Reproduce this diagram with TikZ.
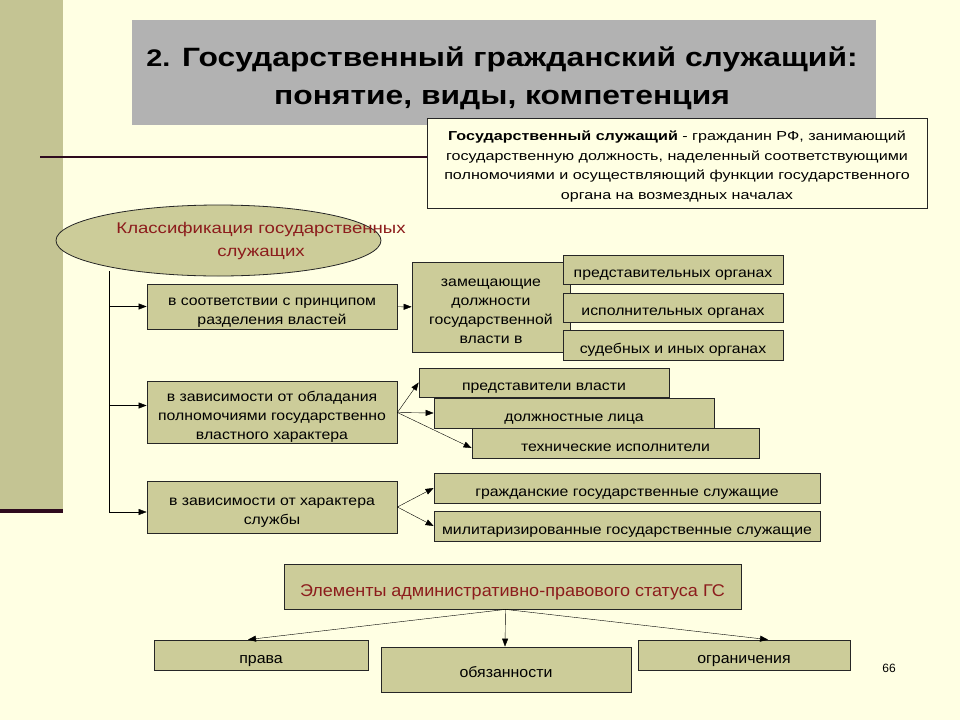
\documentclass[tikz,border=0pt]{standalone}
\usepackage{fontspec}
\setmainfont{Liberation Sans}
\newfontfamily\boxfont{Liberation Sans}[FakeStretch=1.13]
\newfontfamily\widefont{Liberation Sans}[FakeStretch=1.2]
\newfontfamily\deffont{Liberation Sans}[FakeStretch=1.24]
\newfontfamily\lowfont{Liberation Sans}[FakeStretch=1.06]
\usetikzlibrary{shapes.geometric,arrows.meta}
\definecolor{paper}{HTML}{FFFFE3}
\definecolor{olive}{HTML}{CCCC99}
\definecolor{slate}{HTML}{B2B2B2}
\definecolor{wine}{HTML}{8C1C1C}
\definecolor{plum}{HTML}{2E0A1E}

\begin{document}
\begin{tikzpicture}[x=1pt,y=-1pt,
    box/.style={draw=black!85,fill=olive,line width=0.8pt,inner sep=0pt,align=center,font=\boxfont\fontsize{14}{19}\selectfont},
    lines/.style={text height=#1,text depth=4pt},lines/.default=20.4pt,
    lowbox/.style={box,lines,font=\lowfont\fontsize{15}{19}\selectfont},
    >={Triangle[length=8pt,width=6pt]}]
		\fill[paper] (0,0) rectangle (960,720);
		\useasboundingbox (0,0) rectangle (960,720);
		\fill[olive!96!black] (0,0) rectangle (63,509);
		\fill[plum] (0,509) rectangle (63,513);
		\fill[slate] (132,20) rectangle (876,125);
		\node[font=\widefont\bfseries\fontsize{26.5}{38}\selectfont,align=center] (title) at (502,78) {{\fontsize{24}{38}\selectfont 2.} Государственный гражданский служащий:\\понятие, виды, компетенция};
		
		\node[box,fill=paper,lines=76.3pt,minimum width=500,minimum height=90,font=\deffont\fontsize{13}{19.5}\selectfont] (def) at (677,163) {\textbf{Государственный служащий} - гражданин РФ, занимающий\\государственную должность, наделенный соответствующими\\полномочиями и осуществляющий функции государственного\\органа на возмездных началах};
		\coordinate (rule) at (40,157);
		\draw[plum,line width=2pt] (rule) -- (rule -| def.west);
		
		\node[ellipse,draw=black!85,fill=olive,line width=0.8pt,minimum width=325,minimum height=71] (cls) at (218.5,240.5) {};
		\node[text=wine,align=center,font=\widefont\fontsize{15.5}{23.5}\selectfont] (clstext) at (261,241) {Классификация государственных\\служащих};
		\coordinate (trunk) at (109,271);
		
		\node[box,lines=40.4pt,minimum width=250,minimum height=45] (cls1) at (272,306.5) {в соответствии с принципом\\разделения властей};
		\node[box,lines=58.4pt,minimum width=250,minimum height=61] (cls2) at (272,412.5) {в зависимости от обладания\\полномочиями государственно\\властного характера};
		\node[box,lines=39.4pt,minimum width=250,minimum height=52] (cls3) at (272,507) {в зависимости от характера\\службы};
		\coordinate (in2) at ([yshift=7pt]cls2.west);
		\coordinate (in3) at ([yshift=-5pt]cls3.west);
		\draw (trunk) -- (trunk |- in3);
		\draw[->] (trunk |- cls1) -- (cls1);
		\draw[->] (trunk |- in2) -- (in2);
		\draw[->] (trunk |- in3) -- (in3);
		
		\node[box,lines=77.4pt,minimum width=158,minimum height=90] (office) at (491,307) {замещающие\\должности\\государственной\\власти в};
		\node[box,lines,minimum width=220,minimum height=29] (rep) at (673,269.5) {представительных органах};
		\node[box,lines,minimum width=220,minimum height=29] (exe) at (673,307.5) {исполнительных органах};
		\node[box,lines,minimum width=220,minimum height=30] (jud) at (673,345) {судебных и иных органах};
		\draw[->] (cls1) -- (office);
		
		\node[box,lines,minimum width=250,minimum height=29] (pow) at (544,382.5) {представители власти};
		\node[box,lines,minimum width=280,minimum height=30] (off) at (574,413) {должностные лица};
		\node[box,lines,minimum width=287,minimum height=30] (tech) at (615.5,443) {технические исполнители};
		\draw[->] (cls2.east) -- (pow.west);
		\draw[->] (cls2.east) -- (off.west);
		\draw[->] (cls2.east) -- ([yshift=-5pt]tech.west);
		
		\node[box,lines,minimum width=386,minimum height=30] (civ) at (627,488) {гражданские государственные служащие};
		\node[box,lines,minimum width=386,minimum height=30] (mil) at (627,526) {милитаризированные государственные служащие};
		\draw[->] (cls3.east) -- (civ.west);
		\draw[->] (cls3.east) -- (mil.west);
		
		\node[lowbox,lines=24.4pt,minimum width=457,minimum height=45,text=wine,font=\lowfont\fontsize{17}{20}\selectfont] (elem) at (512.5,586.5) {Элементы административно-правового статуса ГС};
		\node[lowbox,minimum width=214,minimum height=30] (rights) at (261,655) {права};
		\node[lowbox,minimum width=250,minimum height=45] (duties) at (506,669.5) {обязанности};
		\node[lowbox,minimum width=212,minimum height=30] (limits) at (744,655) {ограничения};
		\draw[->] ([xshift=-7pt]elem.south) -- ([xshift=-13pt]rights.north);
		\draw[->] ([xshift=-7pt]elem.south) -- ([xshift=-1pt]duties.north);
		\draw[->] ([xshift=-7pt]elem.south) -- ([xshift=24pt]limits.north);
		
		\node[font=\fontsize{12}{14}\selectfont] (page) at (889,668) {66};
\end{tikzpicture}
\end{document}
